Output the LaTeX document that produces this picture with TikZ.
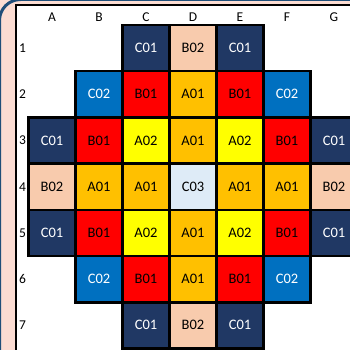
\documentclass[tikz,border=0pt]{standalone}
\usepackage{fontspec}
\setmainfont{Carlito}
\usetikzlibrary{positioning}
\definecolor{cnavy}{HTML}{203864}
\definecolor{cblue}{HTML}{0070C0}
\definecolor{cred}{HTML}{FF0000}
\definecolor{corange}{HTML}{FFC000}
\definecolor{cyellow}{HTML}{FFFF00}
\definecolor{cpeach}{HTML}{F8CBAD}
\definecolor{cice}{HTML}{DEEBF7}
\definecolor{cpink}{HTML}{FBDCD2}
\definecolor{cframe}{HTML}{1F4E79}
\tikzset{
  every picture/.style={font=\fontsize{14.5}{16}\selectfont},
  cell/.style={draw=black, line width=2.6pt, minimum width=47pt, minimum height=46.2pt, inner sep=0pt, text=black},
  kC01/.style={fill=cnavy, text=white},
  kC02/.style={fill=cblue, text=white},
  kC03/.style={fill=cice},
  kB01/.style={fill=cred},
  kB02/.style={fill=cpeach},
  kA01/.style={fill=corange},
  kA02/.style={fill=cyellow},
  head/.style={font=\fontsize{13.5}{15}\selectfont, inner sep=0pt},
}

\begin{document}
\begin{tikzpicture}[x=1pt, y=-1pt]
  \useasboundingbox (0,0) rectangle (350,350);
  \clip (0,0) rectangle (350,350);
  % background and panel
  \fill[cpink] (0,0) rectangle (350,350);
  \draw[cframe, line width=3pt, rounded corners=21pt] (-0.5,-0.5) rectangle (600,600);
  \draw[fill=white, draw=black, line width=2pt] (16,5) rectangle (600,600);
  % column letters and row numbers
  \foreach \c [count=\i from 0] in {A,B,C,D,E,F,G}
    \node[head] (h\c) at (52+47*\i,17) {\c};
  \foreach \r in {1,...,7}
    \node[head] (n\r) at (22.5,48.1+46.2*\r-46.2) {\r};
  % core map
  \foreach \i/\j/\lab in {
      3/1/C01, 4/1/B02, 5/1/C01,
      2/2/C02, 3/2/B01, 4/2/A01, 5/2/B01, 6/2/C02,
      1/3/C01, 2/3/B01, 3/3/A02, 4/3/A01, 5/3/A02, 6/3/B01, 7/3/C01,
      1/4/B02, 2/4/A01, 3/4/A01, 4/4/C03, 5/4/A01, 6/4/A01, 7/4/B02,
      1/5/C01, 2/5/B01, 3/5/A02, 4/5/A01, 5/5/A02, 6/5/B01, 7/5/C01,
      2/6/C02, 3/6/B01, 4/6/A01, 5/6/B01, 6/6/C02,
      3/7/C01, 4/7/B02, 5/7/C01}
    \node[cell, k\lab] (p\i-\j) at (52+47*\i-47,48.1+46.2*\j-46.2) {\lab};
\end{tikzpicture}
\end{document}
